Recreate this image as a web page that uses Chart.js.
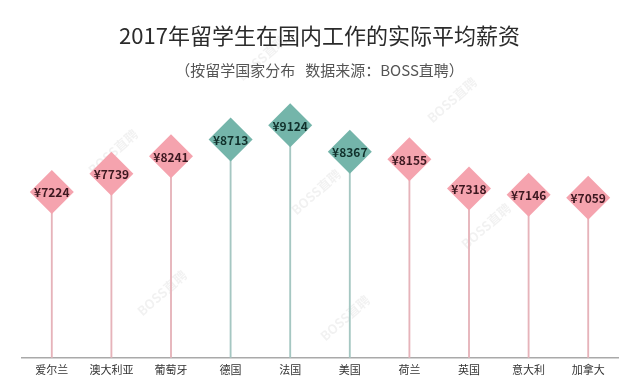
<!DOCTYPE html>
<html>
<head>
<meta charset="utf-8">
<script src="https://cdn.jsdelivr.net/npm/chart.js@4.4.1/dist/chart.umd.min.js"></script>
<style>
  html, body { margin: 0; padding: 0; background: #ffffff; }
  #wrap { position: relative; width: 640px; height: 391px; }
</style>
</head>
<body>
<div id="wrap"><canvas id="salary"></canvas></div>
<script>
// Countries where the graduates studied
const countries = ['爱尔兰', '澳大利亚', '葡萄牙', '德国', '法国', '美国', '荷兰', '英国', '意大利', '加拿大'];
// Average monthly salary (yuan)
const salaries = [7224, 7739, 8241, 8713, 9124, 8367, 8155, 7318, 7146, 7059];
// Colour group of each country: 'p' = pink, 't' = teal
const groups = ['p', 'p', 'p', 't', 't', 't', 'p', 'p', 'p', 'p'];

const titleText = '2017年留学生在国内工作的实际平均薪资';
const subtitleText = '（按留学国家分布   数据来源：BOSS直聘）';
const watermarkText = 'BOSS直聘';

const palette = {
  p: { diamond: '#f5a3ae', stem: '#e6b3ba', label: '#3d1820' },
  t: { diamond: '#74b5aa', stem: '#a5c7c2', label: '#10302b' }
};

const CJK = '"Noto Sans CJK SC", "Noto Sans", sans-serif';

// faint diagonal watermarks behind the chart
const watermarkSpots = [[113, 152], [452, 100], [486, 226], [162, 293], [345, 318], [316, 192], [262, 58]];
const watermarkPlugin = {
  id: 'watermark',
  beforeDraw(chart) {
    const ctx = chart.ctx;
    ctx.save();
    ctx.font = 'bold 13px ' + CJK;
    ctx.fillStyle = 'rgba(0,0,0,0.055)';
    ctx.textAlign = 'center';
    ctx.textBaseline = 'middle';
    watermarkSpots.forEach(([x, y]) => {
      ctx.save();
      ctx.translate(x, y);
      ctx.rotate(-0.72);
      ctx.fillText(watermarkText, 0, 0);
      ctx.restore();
    });
    ctx.restore();
  }
};

// value labels written inside each diamond
const diamondLabels = {
  id: 'diamondLabels',
  afterDatasetsDraw(chart) {
    const meta = chart.getDatasetMeta(1);
    const ctx = chart.ctx;
    ctx.save();
    ctx.font = 'bold 12px ' + CJK;
    ctx.textAlign = 'center';
    ctx.textBaseline = 'middle';
    meta.data.forEach((pt, i) => {
      ctx.fillStyle = palette[groups[i]].label;
      ctx.fillText('¥' + salaries[i], pt.x, pt.y + 1);
    });
    ctx.restore();
  }
};

new Chart(document.getElementById('salary'), {
  type: 'bar',
  data: {
    labels: countries,
    datasets: [
      {
        // thin stems rising from the axis
        type: 'bar',
        data: salaries,
        backgroundColor: groups.map(g => palette[g].stem),
        borderWidth: 0,
        barThickness: 1.2,
        order: 2
      },
      {
        // diamond heads
        type: 'line',
        data: salaries,
        showLine: false,
        pointStyle: 'rectRot',
        pointRadius: 22,
        pointHoverRadius: 22,
        pointBackgroundColor: groups.map(g => palette[g].diamond),
        pointBorderWidth: 0,
        clip: false,
        order: 1
      }
    ]
  },
  options: {
    responsive: true,
    maintainAspectRatio: false,
    animation: false,
    events: [],
    layout: { padding: { top: 0, left: 20, right: 21, bottom: 10 } },
    plugins: {
      legend: { display: false },
      tooltip: { enabled: false },
      title: {
        display: true,
        text: titleText,
        color: '#2b2b2b',
        font: { family: CJK, size: 22, weight: 'normal' },
        padding: { top: 22, bottom: 6 }
      },
      subtitle: {
        display: true,
        text: subtitleText,
        color: '#555555',
        font: { family: CJK, size: 15, weight: 'normal' },
        padding: { top: 7, bottom: 15 }
      }
    },
    scales: {
      x: {
        grid: { display: false, drawTicks: false },
        border: { display: true, color: '#a9a9a9', width: 1.5 },
        ticks: { color: '#333333', font: { family: CJK, size: 11 }, padding: 5 }
      },
      y: {
        display: false,
        min: 2500,
        max: 10000
      }
    }
  },
  plugins: [watermarkPlugin, diamondLabels]
});
</script>
</body>
</html>
